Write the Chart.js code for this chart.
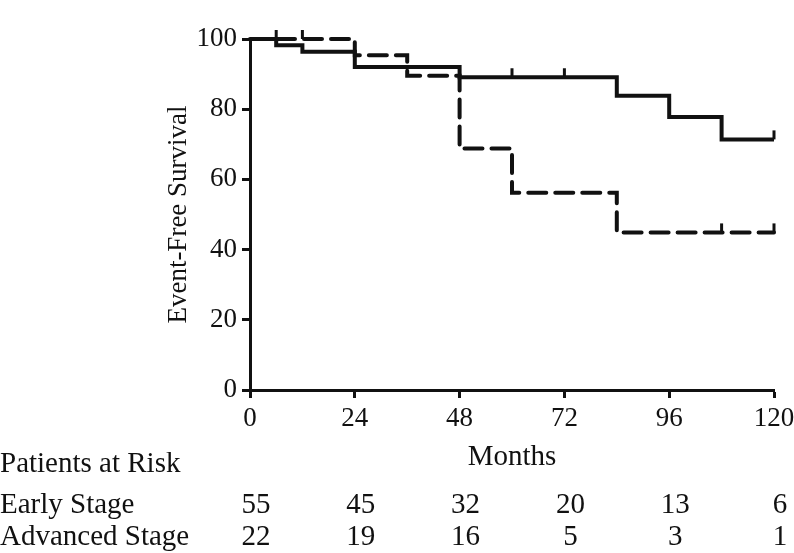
<!DOCTYPE html>
<html>
<head>
<meta charset="utf-8">
<script src="https://cdn.jsdelivr.net/npm/chart.js@4/dist/chart.umd.min.js"></script>
<style>
  body { margin: 0; background: #fff; }
  #wrap { width: 794px; height: 553px; }
</style>
</head>
<body>
<div id="wrap"><canvas id="km" width="794" height="553"></canvas></div>
<script>
// Kaplan-Meier steps (months, % event-free)
let earlyMonths = [0, 6, 12, 24, 48, 84, 96, 108, 120]
let earlySurvival = [100, 98.2, 96.4, 92.0, 89.1, 83.8, 77.8, 71.4, 71.4]
let advancedMonths = [0, 24, 36, 48, 60, 84, 120]
let advancedSurvival = [100, 95.4, 89.5, 68.8, 56.2, 44.9, 44.9]

// Censored observations
let earlyCensorMonths = [60, 72, 120]
let earlyCensorSurvival = [89.1, 89.1, 71.4]
let advancedCensorMonths = [6, 12, 108, 120]
let advancedCensorSurvival = [100, 100, 44.9, 44.9]

// Patients at risk table
let riskMonths = [0, 24, 48, 72, 96, 120]
let earlyAtRisk = [55, 45, 32, 20, 13, 6]
let advancedAtRisk = [22, 19, 16, 5, 3, 1]
let riskRows = ['Early Stage', 'Advanced Stage']

let xTicks = [0, 24, 48, 72, 96, 120]
let yTicks = [0, 20, 40, 60, 80, 100]

let serif = 'Liberation Serif'
let ink = '#111'

let toPoints = (xs, ys) => xs.map((x, i) => ({ x: x, y: ys[i] }))

// Draws the at-risk table under the x axis
let atRiskTable = {
  id: 'atRiskTable',
  afterDraw(chart) {
    let ctx = chart.ctx
    let xScale = chart.scales.x
    ctx.save()
    ctx.fillStyle = ink
    ctx.textBaseline = 'alphabetic'
    ctx.font = '29px "' + serif + '"'
    ctx.textAlign = 'left'
    ctx.fillText('Patients at Risk', 0, 472)
    let baselines = [513, 545]
    let rows = [earlyAtRisk, advancedAtRisk]
    rows.forEach((row, r) => {
      ctx.textAlign = 'left'
      ctx.fillText(riskRows[r], 0, baselines[r])
      ctx.textAlign = 'center'
      row.forEach((n, i) => {
        ctx.fillText(String(n), xScale.getPixelForValue(riskMonths[i]) + 6, baselines[r])
      })
    })
    ctx.restore()
  }
}

new Chart(document.getElementById('km'), {
  type: 'scatter',
  data: {
    datasets: [
      {
        label: 'Early Stage',
        data: toPoints(earlyMonths, earlySurvival),
        showLine: true,
        stepped: true,
        borderColor: ink,
        borderWidth: 4,
        pointRadius: 0,
        clip: false
      },
      {
        label: 'Early Stage censored',
        data: toPoints(earlyCensorMonths, earlyCensorSurvival),
        pointStyle: 'dash',
        rotation: 270,
        radius: 9,
        borderColor: ink,
        borderWidth: 3,
        clip: false
      },
      {
        label: 'Advanced Stage',
        data: toPoints(advancedMonths, advancedSurvival),
        showLine: true,
        stepped: true,
        borderColor: ink,
        borderWidth: 4,
        borderDash: [18, 9],
        borderCapStyle: 'round',
        pointRadius: 0,
        clip: false
      },
      {
        label: 'Advanced Stage censored',
        data: toPoints(advancedCensorMonths, advancedCensorSurvival),
        pointStyle: 'dash',
        rotation: 270,
        radius: 9,
        borderColor: ink,
        borderWidth: 3,
        clip: false
      }
    ]
  },
  options: {
    responsive: false,
    animation: false,
    events: [],
    layout: { padding: { top: 39, right: 20, left: 0, bottom: 0 } },
    plugins: {
      legend: { display: false },
      tooltip: { enabled: false }
    },
    scales: {
      x: {
        type: 'linear',
        min: 0,
        max: 120,
        afterFit: (scale) => {
          scale.height = 163
          // let the end labels hang past the plot edges
          scale.paddingLeft = 0
          scale.paddingRight = 0
        },
        afterBuildTicks: (scale) => { scale.ticks = xTicks.map((v) => ({ value: v })) },
        border: { display: true, color: ink, width: 3 },
        grid: { drawOnChartArea: false, drawTicks: true, tickLength: 8, tickWidth: 3, tickColor: ink },
        ticks: { color: ink, padding: 5, font: { family: serif, size: 27 }, maxRotation: 0 },
        title: {
          display: true,
          text: 'Months',
          color: ink,
          font: { family: serif, size: 29 },
          padding: { top: 0, bottom: 78 }
        }
      },
      y: {
        min: 0,
        max: 100,
        afterFit: (scale) => { scale.width = 250 },
        afterBuildTicks: (scale) => { scale.ticks = yTicks.map((v) => ({ value: v })) },
        border: { display: true, color: ink, width: 3 },
        grid: { drawOnChartArea: false, drawTicks: true, tickLength: 8, tickWidth: 3, tickColor: ink },
        ticks: { color: ink, padding: 5, font: { family: serif, size: 27 } },
        title: {
          display: true,
          text: 'Event-Free Survival',
          color: ink,
          font: { family: serif, size: 27 },
          padding: { top: 163, bottom: 0 }
        }
      }
    }
  },
  plugins: [atRiskTable]
})
</script>
</body>
</html>
